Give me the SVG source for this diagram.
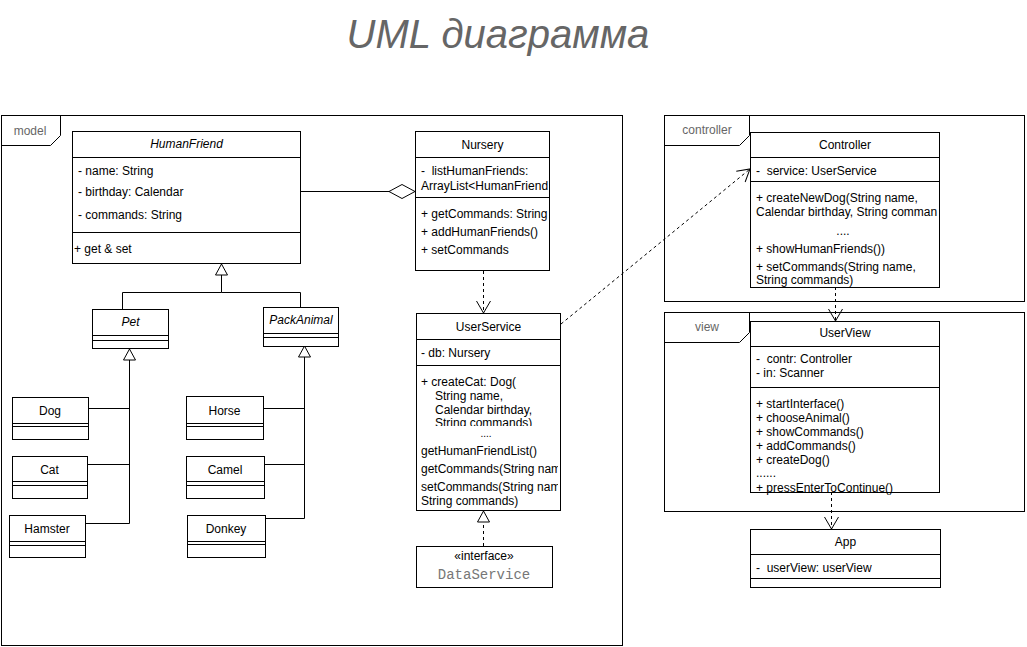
<svg xmlns="http://www.w3.org/2000/svg" width="1027" height="647" viewBox="0 0 1027 647">
<style>
text{font-family:"Liberation Sans",Arial,sans-serif;font-size:12px;fill:#000}
.c{text-anchor:middle}
.i{font-style:italic}
.box{fill:#fff;stroke:#000;stroke-width:1}
.sep{stroke:#000;stroke-width:1;fill:none}
.frame{fill:none;stroke:#000;stroke-width:1}
.flabel{fill:#666;text-anchor:middle}
.ln{fill:none;stroke:#000;stroke-width:1}
.dash{stroke-dasharray:3 3}
.title{font-size:40px;font-style:italic;fill:#666;text-anchor:middle}
.mono{font-family:"Liberation Mono","DejaVu Sans Mono",monospace;font-size:14px;fill:#777;text-anchor:middle}
.dots{font-size:10px}
</style>
<defs>
<marker id="open" markerUnits="userSpaceOnUse" markerWidth="14" markerHeight="16" refX="12" refY="7" orient="auto" viewBox="-1 -1 14 16">
<path d="M0,0 L12,7 L0,14" fill="none" stroke="#000" stroke-width="1" stroke-dasharray="none"/>
</marker>
<marker id="tri" markerUnits="userSpaceOnUse" markerWidth="14" markerHeight="16" refX="11" refY="6" orient="auto" viewBox="-1 -1 14 16">
<path d="M0,0 L11,6 L0,12 Z" fill="#fff" stroke="#000" stroke-width="1" stroke-dasharray="none"/>
</marker>
<marker id="diamond" markerUnits="userSpaceOnUse" markerWidth="28" markerHeight="16" refX="26" refY="7" orient="auto" viewBox="-1 -1 28 16">
<path d="M0,7 L13,0 L26,7 L13,14 Z" fill="#fff" stroke="#000" stroke-width="1"/>
</marker>
<clipPath id="clipNursery"><rect x="415" y="131" width="134" height="140"/></clipPath>
<clipPath id="clipUS1"><rect x="416" y="365" width="142" height="61"/></clipPath>
<clipPath id="clipUS2"><rect x="416" y="426" width="142" height="85"/></clipPath>
<clipPath id="clipCtrl"><rect x="750" y="181" width="188" height="110"/></clipPath>
</defs>

<text id="title" class="title" x="498" y="48">UML диаграмма</text>

<g id="frame-model">
<rect class="frame" x="1.5" y="115.5" width="621" height="530"/>
<path class="frame" d="M1.5,145.5 L50.5,145.5 L60.5,135.5 L60.5,115.5"/>
<text class="flabel" x="30" y="135">model</text>
</g>
<g id="frame-controller">
<rect class="frame" x="664.5" y="115.5" width="360" height="186"/>
<path class="frame" d="M664.5,145.5 L739.5,145.5 L749.5,135.5 L749.5,115.5"/>
<text class="flabel" x="707" y="134">controller</text>
</g>
<g id="frame-view">
<rect class="frame" x="664.5" y="312.5" width="360" height="199"/>
<path class="frame" d="M664.5,342.5 L739.5,342.5 L749.5,332.5 L749.5,312.5"/>
<text class="flabel" x="707" y="331">view</text>
</g>

<g id="connectors">
<path class="ln" d="M301,191.5 L415,191.5" marker-end="url(#diamond)"/>
<path class="ln" d="M122.5,309 L122.5,292.5 L221.5,292.5 L221.5,264" marker-end="url(#tri)"/>
<path class="ln" d="M300.5,307 L300.5,292.5 L221.5,292.5"/>
<path class="ln" d="M85,523.5 L129.5,523.5 L129.5,349" marker-end="url(#tri)"/>
<path class="ln" d="M88,408.5 L129.5,408.5"/>
<path class="ln" d="M87,464.5 L129.5,464.5"/>
<path class="ln" d="M265,518.5 L304.5,518.5 L304.5,346" marker-end="url(#tri)"/>
<path class="ln" d="M263,408.5 L304.5,408.5"/>
<path class="ln" d="M264,464.5 L304.5,464.5"/>
<path class="ln dash" d="M483.5,271 L483.5,313" marker-end="url(#open)"/>
<path class="ln dash" d="M483.5,546 L483.5,511" marker-end="url(#tri)"/>
<path class="ln dash" d="M561,324 L750,169" marker-end="url(#open)"/>
<path class="ln dash" d="M835.5,287 L835.5,321" marker-end="url(#open)"/>
<path class="ln dash" d="M831.5,492 L831.5,529" marker-end="url(#open)"/>
</g>

<g id="HumanFriend">
<rect class="box" x="72.5" y="131.5" width="228" height="132"/>
<path class="sep" d="M72.5,157.5 H300.5 M72.5,232.5 H300.5"/>
<text class="c i" x="186.5" y="148">HumanFriend</text>
<text x="78" y="175">- name: String</text>
<text x="78" y="196">- birthday: Calendar</text>
<text x="78" y="219">- commands: String</text>
<text x="74" y="253">+ get &amp; set</text>
</g>

<g id="Nursery">
<rect class="box" x="415.5" y="131.5" width="134" height="139"/>
<path class="sep" d="M415.5,157.5 H549.5 M415.5,197.5 H549.5"/>
<text class="c" x="482.5" y="149">Nursery</text>
<g clip-path="url(#clipNursery)">
<text x="421" y="175" xml:space="preserve">-  listHumanFriends:</text>
<text x="421" y="190">ArrayList&lt;HumanFriend</text>
<text x="421" y="218">+ getCommands: String</text>
<text x="421" y="236">+ addHumanFriends()</text>
<text x="421" y="254">+ setCommands</text>
</g>
</g>

<g id="Pet">
<rect class="box" x="92.5" y="309.5" width="76" height="39"/>
<path class="sep" d="M92.5,335.5 H168.5 M92.5,340.5 H168.5"/>
<text class="c i" x="130.5" y="326">Pet</text>
</g>
<g id="PackAnimal">
<rect class="box" x="263.5" y="307.5" width="75" height="39"/>
<path class="sep" d="M263.5,333.5 H338.5 M263.5,337.5 H338.5"/>
<text class="c i" x="301" y="324">PackAnimal</text>
</g>

<g id="Dog">
<rect class="box" x="12.5" y="397.5" width="76" height="42"/>
<path class="sep" d="M12.5,423.5 H88.5 M12.5,426.5 H88.5"/>
<text class="c" x="50" y="415">Dog</text>
</g>
<g id="Cat">
<rect class="box" x="12.5" y="456.5" width="75" height="42"/>
<path class="sep" d="M12.5,481.5 H87.5 M12.5,485.5 H87.5"/>
<text class="c" x="49.5" y="474">Cat</text>
</g>
<g id="Hamster">
<rect class="box" x="9.5" y="515.5" width="76" height="42"/>
<path class="sep" d="M9.5,541.5 H85.5 M9.5,545.5 H85.5"/>
<text class="c" x="47" y="533">Hamster</text>
</g>
<g id="Horse">
<rect class="box" x="186.5" y="396.5" width="77" height="43"/>
<path class="sep" d="M186.5,423.5 H263.5 M186.5,426.5 H263.5"/>
<text class="c" x="224.5" y="415">Horse</text>
</g>
<g id="Camel">
<rect class="box" x="186.5" y="456.5" width="78" height="42"/>
<path class="sep" d="M186.5,481.5 H264.5 M186.5,485.5 H264.5"/>
<text class="c" x="225" y="474">Camel</text>
</g>
<g id="Donkey">
<rect class="box" x="187.5" y="515.5" width="78" height="42"/>
<path class="sep" d="M187.5,541.5 H265.5 M187.5,544.5 H265.5"/>
<text class="c" x="226" y="533">Donkey</text>
</g>

<g id="UserService">
<rect class="box" x="416.5" y="313.5" width="144" height="197"/>
<path class="sep" d="M416.5,339.5 H560.5 M416.5,365.5 H560.5"/>
<text class="c" x="488.5" y="331">UserService</text>
<text x="421" y="357">- db: Nursery</text>
<g clip-path="url(#clipUS1)">
<text x="421" y="386">+ createCat: Dog(</text>
<text x="435" y="400">String name,</text>
<text x="435" y="414">Calendar birthday,</text>
<text x="435" y="427">String commands)</text>
</g>
<g clip-path="url(#clipUS2)">
<text class="c dots" x="486" y="437">....</text>
<text x="421" y="455">getHumanFriendList()</text>
<text x="421" y="473">getCommands(String nam</text>
<text x="421" y="491">setCommands(String nam</text>
<text x="421" y="505">String commands)</text>
</g>
</g>

<g id="DataService">
<rect class="box" x="416.5" y="546.5" width="136" height="41"/>
<text class="c" x="484" y="560">«interface»</text>
<text class="mono" x="484" y="579">DataService</text>
</g>

<g id="Controller">
<rect class="box" x="750.5" y="132.5" width="189" height="155"/>
<path class="sep" d="M750.5,157.5 H939.5 M750.5,181.5 H939.5"/>
<text class="c" x="845" y="149">Controller</text>
<text x="756" y="175" xml:space="preserve">-  service: UserService</text>
<g clip-path="url(#clipCtrl)">
<text x="756" y="202">+ createNewDog(String name,</text>
<text x="756" y="216">Calendar birthday, String comman</text>
<text class="c" x="843" y="235">....</text>
<text x="756" y="253">+ showHumanFriends())</text>
<text x="756" y="271">+ setCommands(String name,</text>
<text x="756" y="284">String commands)</text>
</g>
</g>

<g id="UserView">
<rect class="box" x="750.5" y="321.5" width="189" height="171"/>
<path class="sep" d="M750.5,346.5 H939.5 M750.5,387.5 H939.5"/>
<text class="c" x="845" y="337">UserView</text>
<text x="756" y="363" xml:space="preserve">-  contr: Controller</text>
<text x="756" y="377">- in: Scanner</text>
<text x="756" y="408">+ startInterface()</text>
<text x="756" y="422">+ chooseAnimal()</text>
<text x="756" y="436">+ showCommands()</text>
<text x="756" y="450">+ addCommands()</text>
<text x="756" y="464">+ createDog()</text>
<text x="756" y="477">......</text>
<text x="756" y="492">+ pressEnterToContinue()</text>
</g>

<g id="App">
<rect class="box" x="750.5" y="529.5" width="190" height="58"/>
<path class="sep" d="M750.5,554.5 H940.5 M750.5,578.5 H940.5"/>
<text class="c" x="845.5" y="546">App</text>
<text x="756" y="572" xml:space="preserve">-  userView: userView</text>
</g>
</svg>
